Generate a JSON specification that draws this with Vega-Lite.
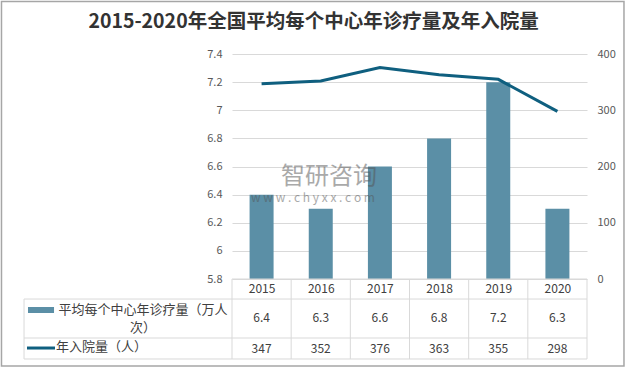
{
  "$schema": "https://vega.github.io/schema/vega-lite/v6.json",
  "width": 355,
  "height": 225,
  "autosize": {"type": "none"},
  "padding": {"left": 232, "top": 54, "right": 39, "bottom": 90},
  "background": "white",
  "config": {
    "view": {"stroke": null},
    "font": "Noto Sans CJK SC",
    "axis": {"labelFont": "Noto Sans CJK SC"}
  },
  "title": {
    "text": "2015-2020年全国平均每个中心年诊疗量及年入院量",
    "anchor": "middle",
    "frame": "group",
    "dx": -96,
    "offset": -32,
    "fontSize": 19.5,
    "fontWeight": "bold",
    "color": "#333333",
    "font": "Noto Sans CJK SC"
  },
  "data": {
    "values": [
      {"year": 2015, "visits": 6.4, "admissions": 347},
      {"year": 2016, "visits": 6.3, "admissions": 352},
      {"year": 2017, "visits": 6.6, "admissions": 376},
      {"year": 2018, "visits": 6.8, "admissions": 363},
      {"year": 2019, "visits": 7.2, "admissions": 355},
      {"year": 2020, "visits": 6.3, "admissions": 298}
    ]
  },
  "resolve": {"scale": {"y": "independent"}},
  "layer": [
    {
      "mark": {"type": "bar", "width": 24, "color": "#5b8fa6"},
      "encoding": {
        "x": {
          "field": "year",
          "type": "quantitative",
          "scale": {"domain": [2014.5, 2020.5], "nice": false, "zero": false, "padding": 0},
          "axis": {
            "values": [2015, 2016, 2017, 2018, 2019, 2020],
            "format": "d",
            "ticks": false,
            "domain": false,
            "grid": false,
            "labelPadding": 9,
            "labelBaseline": "middle",
            "labelFontSize": 12,
            "labelColor": "#404040",
            "title": null
          }
        },
        "y": {
          "field": "visits",
          "type": "quantitative",
          "scale": {"domain": [5.8, 7.4], "nice": false, "zero": false},
          "axis": {
            "orient": "left",
            "values": [5.8, 6, 6.2, 6.4, 6.6, 6.8, 7, 7.2, 7.4],
            "format": "~g",
            "ticks": false,
            "domain": false,
            "grid": true,
            "gridColor": "#d9d9d9",
            "gridWidth": 1,
            "labelPadding": 10,
            "labelFontSize": 11,
            "labelColor": "#595959",
            "title": null
          }
        },
        "y2": {"datum": 5.8}
      }
    },
    {
      "layer": [
        {
          "data": {"values": [{}]},
          "mark": {"type": "rect", "fill": null, "stroke": "#a6a6a6", "strokeWidth": 1.5},
          "encoding": {
            "x": {"datum": 2010.604},
            "x2": {"datum": 2021.125},
            "y": {"datum": 493.3},
            "y2": {"datum": -154.7}
          }
        },
        {
          "data": {"values": [{}]},
          "mark": {"type": "text", "fontSize": 24, "fill": "#555555", "opacity": 0.5, "align": "center", "baseline": "middle"},
          "encoding": {
            "x": {"datum": 2016.139},
            "y": {"datum": 181.4},
            "text": {"value": "智研咨询"}
          }
        },
        {
          "data": {"values": [{}]},
          "mark": {"type": "text", "fontSize": 12, "fill": "#555555", "opacity": 0.5, "align": "center", "baseline": "middle"},
          "encoding": {
            "x": {"datum": 2015.869},
            "y": {"datum": 144.0},
            "text": {"value": "w w w . c h y x x . c o m"}
          }
        },
        {
          "mark": {"type": "line", "color": "#0f5f7f", "strokeWidth": 3},
          "encoding": {
            "x": {"field": "year", "type": "quantitative"},
            "y": {
              "field": "admissions",
              "type": "quantitative",
              "scale": {"domain": [0, 400], "nice": false},
              "axis": {
                "orient": "right",
                "values": [0, 50, 100, 150, 200, 250, 300, 350, 400],
                "ticks": false,
                "domain": false,
                "grid": false,
                "labelPadding": 10,
                "labelFontSize": 11,
                "labelColor": "#595959",
                "title": null
              }
            }
          }
        },
        {
          "data": {"values": [{}]},
          "mark": {"type": "rule", "color": "#d9d9d9", "strokeWidth": 1},
          "encoding": {"x": {"datum": 2014.5}, "x2": {"datum": 2020.5}, "y": {"datum": 0}}
        },
        {
          "data": {"values": [{}]},
          "mark": {"type": "rule", "color": "#d9d9d9", "strokeWidth": 1},
          "encoding": {"x": {"datum": 2010.985}, "x2": {"datum": 2020.5}, "y": {"datum": -35.6}}
        },
        {
          "data": {"values": [{}]},
          "mark": {"type": "rule", "color": "#d9d9d9", "strokeWidth": 1},
          "encoding": {"x": {"datum": 2010.985}, "x2": {"datum": 2020.5}, "y": {"datum": -104.9}}
        },
        {
          "data": {"values": [{}]},
          "mark": {"type": "rule", "color": "#d9d9d9", "strokeWidth": 1},
          "encoding": {"x": {"datum": 2010.985}, "x2": {"datum": 2020.5}, "y": {"datum": -142.2}}
        },
        {
          "data": {"values": [{}]},
          "mark": {"type": "rule", "color": "#d9d9d9", "strokeWidth": 1},
          "encoding": {"x": {"datum": 2010.985}, "y": {"datum": -35.6}, "y2": {"datum": -142.2}}
        },
        {
          "mark": {"type": "rule", "color": "#d9d9d9", "strokeWidth": 1, "xOffset": -29.58},
          "encoding": {"x": {"field": "year", "type": "quantitative"}, "y": {"datum": 0}, "y2": {"datum": -142.2}}
        },
        {
          "data": {"values": [{}]},
          "mark": {"type": "rule", "color": "#d9d9d9", "strokeWidth": 1},
          "encoding": {"x": {"datum": 2020.5}, "y": {"datum": 0}, "y2": {"datum": -142.2}}
        },
        {
          "mark": {"type": "text", "fontSize": 12, "fill": "#404040", "align": "center", "baseline": "middle"},
          "encoding": {
            "x": {"field": "year", "type": "quantitative"},
            "y": {"datum": -70.2},
            "text": {"field": "visits", "type": "quantitative", "format": ".1f"}
          }
        },
        {
          "mark": {"type": "text", "fontSize": 12, "fill": "#404040", "align": "center", "baseline": "middle"},
          "encoding": {
            "x": {"field": "year", "type": "quantitative"},
            "y": {"datum": -124.4},
            "text": {"field": "admissions", "type": "quantitative", "format": "d"}
          }
        },
        {
          "data": {"values": [{}]},
          "mark": {"type": "rect", "fill": "#5b8fa6"},
          "encoding": {
            "x": {"datum": 2011.052},
            "x2": {"datum": 2011.492},
            "y": {"datum": -49.8},
            "y2": {"datum": -60.4}
          }
        },
        {
          "data": {"values": [{}]},
          "mark": {"type": "text", "fontSize": 13, "fill": "#404040", "align": "center", "baseline": "middle", "lineHeight": 18},
          "encoding": {
            "x": {"datum": 2012.996},
            "y": {"datum": -55.1},
            "text": {"value": ["平均每个中心年诊疗量（万人", "次）"]}
          }
        },
        {
          "data": {"values": [{}]},
          "mark": {"type": "rule", "color": "#0f5f7f", "strokeWidth": 3},
          "encoding": {
            "x": {"datum": 2011.035},
            "x2": {"datum": 2011.508},
            "y": {"datum": -122.7}
          }
        },
        {
          "data": {"values": [{}]},
          "mark": {"type": "text", "fontSize": 13, "fill": "#404040", "align": "left", "baseline": "middle"},
          "encoding": {
            "x": {"datum": 2011.525},
            "y": {"datum": -120.9},
            "text": {"value": "年入院量（人）"}
          }
        }
      ]
    }
  ]
}
